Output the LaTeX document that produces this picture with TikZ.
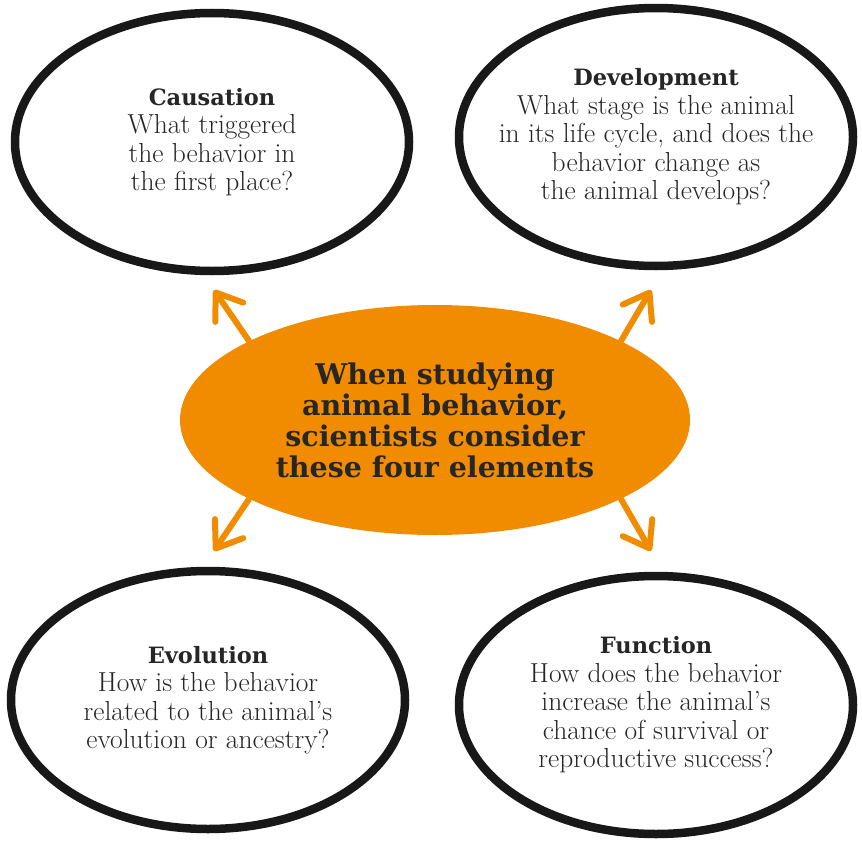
\documentclass[tikz,border=0pt]{standalone}
\usepackage{fontspec}
\usepackage{tikz}
\usetikzlibrary{arrows.meta, shapes.geometric}
\usepackage{xcolor}
\newfontfamily\slab{DejaVu Serif}
\definecolor{hubOrange}{RGB}{241,140,0}
\definecolor{inkBlack}{RGB}{24,24,24}
\definecolor{textGray}{RGB}{38,38,38}
\newcommand{\qhead}[1]{{\slab\bfseries\fontsize{22.5}{30}\selectfont #1}}

\begin{document}
\begin{tikzpicture}[
      x=1pt, y=-1pt,
      >={Straight Barb[length=24pt, width=34pt, round]},
      bubble/.style={
        ellipse, draw=inkBlack, line width=8.5pt, align=center,
        minimum width=394pt, minimum height=258pt, text=textGray,
        font=\fontsize{27.5}{28.5}\selectfont, inner xsep=-30pt, inner ysep=0pt
      },
      hub/.style={
        ellipse, fill=hubOrange, align=center, text=textGray,
        minimum width=510pt, minimum height=230pt, inner sep=0pt,
        font=\slab\bfseries\fontsize{28.5}{31}\selectfont
      },
      arr/.style={->, draw=hubOrange, line width=6pt, line cap=round}
    ]
    \useasboundingbox (0,0) rectangle (862,859);

    \node[hub] (hub) at (435,420) {When studying\\animal behavior,\\scientists consider\\these four elements};

    \node[bubble] (cause) at (212,142) {\qhead{Causation}\\What triggered\\the behavior in\\the first place?};
    \node[bubble] (devel) at (656,137) {\qhead{Development}\\What stage is the animal\\in its life cycle, and does the\\behavior change as\\the animal develops?};
    \node[bubble] (evol)  at (208,700) {\qhead{Evolution}\\How is the behavior\\related to the animal's\\evolution or ancestry?};
    \node[bubble] (func)  at (656,705) {\qhead{Function}\\How does the behavior\\increase the animal's\\chance of survival or\\reproductive success?};

    \coordinate (tipC) at (214,290);
    \coordinate (tipD) at (651,290);
    \coordinate (tipE) at (214,551);
    \coordinate (tipF) at (651,551);

    \foreach \a/\b in {157/tipC, 23/tipD, 203/tipE, 337/tipF}
      \draw[arr] (hub.\a) -- (\b);
  \end{tikzpicture}
\end{document}
